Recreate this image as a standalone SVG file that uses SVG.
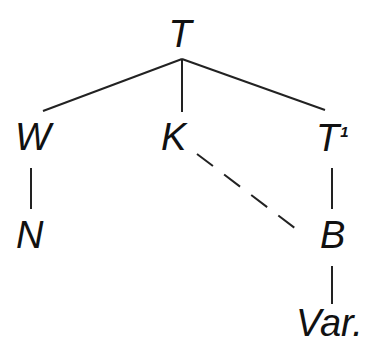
<svg xmlns="http://www.w3.org/2000/svg" width="368" height="344" viewBox="0 0 368 344">
<style>
.lbl{font-family:"Liberation Sans",Arial,sans-serif;font-style:italic;font-size:38px;fill:#111}
.e{stroke:#222;stroke-width:2;fill:none;stroke-linecap:butt}
.d{stroke-dasharray:20 14}
</style>
<rect width="368" height="344" fill="#fff"/>
<g id="connectors">
<line class="e" x1="182" y1="59" x2="43" y2="111"/>
<line class="e" x1="182" y1="59" x2="182" y2="112"/>
<line class="e" x1="182" y1="59" x2="325" y2="110"/>
<line class="e" x1="31" y1="168" x2="31" y2="209"/>
<line class="e" x1="332" y1="168" x2="332" y2="209"/>
<line class="e" x1="332" y1="266" x2="332" y2="304"/>
<line class="e d" x1="197" y1="154" x2="304" y2="235"/>
</g>
<g id="n-T"><text class="lbl" x="180" y="47" text-anchor="middle">T</text></g>
<g id="n-W"><text class="lbl" x="15" y="150">W</text></g>
<g id="n-K"><text class="lbl" x="161" y="150">K</text></g>
<g id="n-T1"><text class="lbl" x="316" y="151">T<tspan font-size="15" font-weight="bold" dx="1" dy="-14">1</tspan></text></g>
<g id="n-N"><text class="lbl" x="16" y="248">N</text></g>
<g id="n-B"><text class="lbl" x="320" y="248">B</text></g>
<g id="n-Var"><text class="lbl" x="296" y="336">Var.</text></g>
</svg>
